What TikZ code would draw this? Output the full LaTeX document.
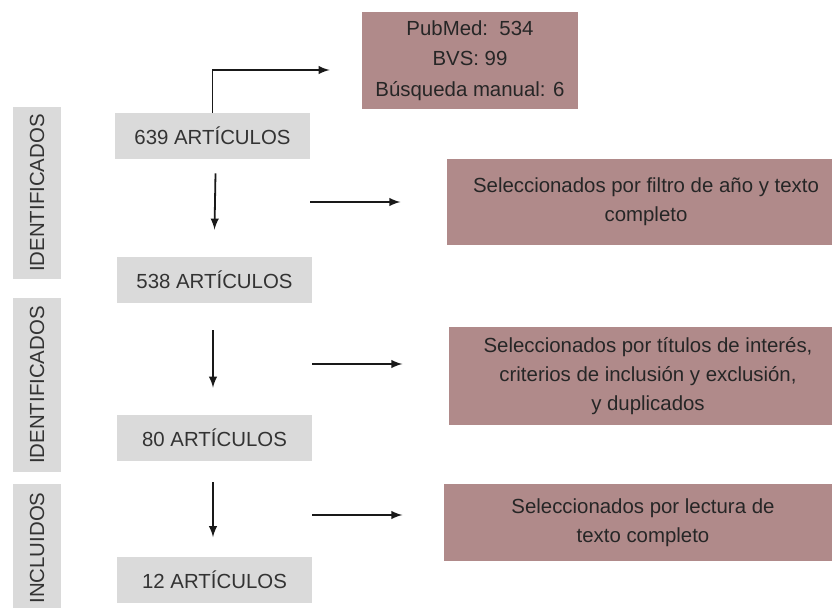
\documentclass[tikz,border=0pt]{standalone}
\usepackage{fontspec}
\setmainfont{Liberation Sans}
\usetikzlibrary{arrows}

\definecolor{rosa}{RGB}{176,138,138}
\definecolor{gris}{RGB}{218,218,218}

\tikzset{
	caja/.style={fill=gris, text=black!80, inner sep=0pt, minimum width=97.5pt, minimum height=23pt},
	filtro/.style={fill=rosa, text=black!85, inner sep=0pt, align=center, font=\fontsize{10.2}{14.5}\selectfont},
	fase/.style={fill=gris, text=black!80, inner sep=0pt, rotate=90, minimum height=24pt},
	flecha/.style={-latex, line width=0.9pt, black!90}
}

\begin{document}
\begin{tikzpicture}[x=0.5pt, y=-0.5pt, font=\fontsize{10.2}{14.5}\selectfont]
			\useasboundingbox (0,0) rectangle (832,607);
			\clip (0,0) rectangle (832,607);
			
			% fases
			\node[fase, minimum width=86pt] (id1) at (37,193) {IDENTIFICADOS};
			\node[fase, minimum width=87pt] (id2) at (37,385) {IDENTIFICADOS};
			\node[fase, minimum width=64pt] (inc) at (37,548) {INCLUIDOS};
			
			% articulos
			\node[caja] (n639) at (212.5,136) {639 ARTÍCULOS};
			\node[caja] (n538) at (214.5,280) {538 ARTÍCULOS};
			\node[caja] (n80) at (214.5,438) {80 ARTÍCULOS};
			\node[caja] (n12) at (214.5,579.5) {12 ARTÍCULOS};
			
			% bases y filtros
			\node[filtro, minimum width=108pt, minimum height=48.5pt, font=\fontsize{10.2}{15.3}\selectfont] (bases) at (470,60.5) {PubMed:~~534\\BVS: 99\\Búsqueda manual: 6};
			\node[filtro, minimum width=199pt, minimum height=43pt] (anio) at (646,202) {Seleccionados por filtro de año y texto\\completo};
			\node[filtro, minimum width=199pt, minimum height=49pt] (titulos) at (648,376) {Seleccionados por títulos de interés,\\criterios de inclusión y exclusión,\\y duplicados};
			\node[filtro, minimum width=199pt, minimum height=38.5pt] (lectura) at (643,522.5) {Seleccionados por lectura de\\texto completo};
			
			\draw[flecha] (n639.north) |- ([xshift=-16pt,yshift=-4.75pt]bases.west);
			
			\draw[flecha] ([xshift=1.5pt,yshift=-7pt]n639.south) -- ([yshift=13.5pt]n538.north);
			\draw[flecha] ([xshift=-0.75pt,yshift=-13.5pt]n538.south) -- ([xshift=-0.75pt,yshift=13.5pt]n80.north);
			\draw[flecha] ([xshift=-0.75pt,yshift=-10.5pt]n80.south) -- ([xshift=-0.75pt,yshift=9.5pt]n12.north);
			
			\draw[flecha] (anio.west -| n639.east) -- ++(90,0);
			\draw[flecha] ([yshift=6pt]titulos.west -| n80.east) -- ++(90,0);
			\draw[flecha] ([yshift=3.75pt]lectura.west -| n12.east) -- ++(90,0);
\end{tikzpicture}
\end{document}
